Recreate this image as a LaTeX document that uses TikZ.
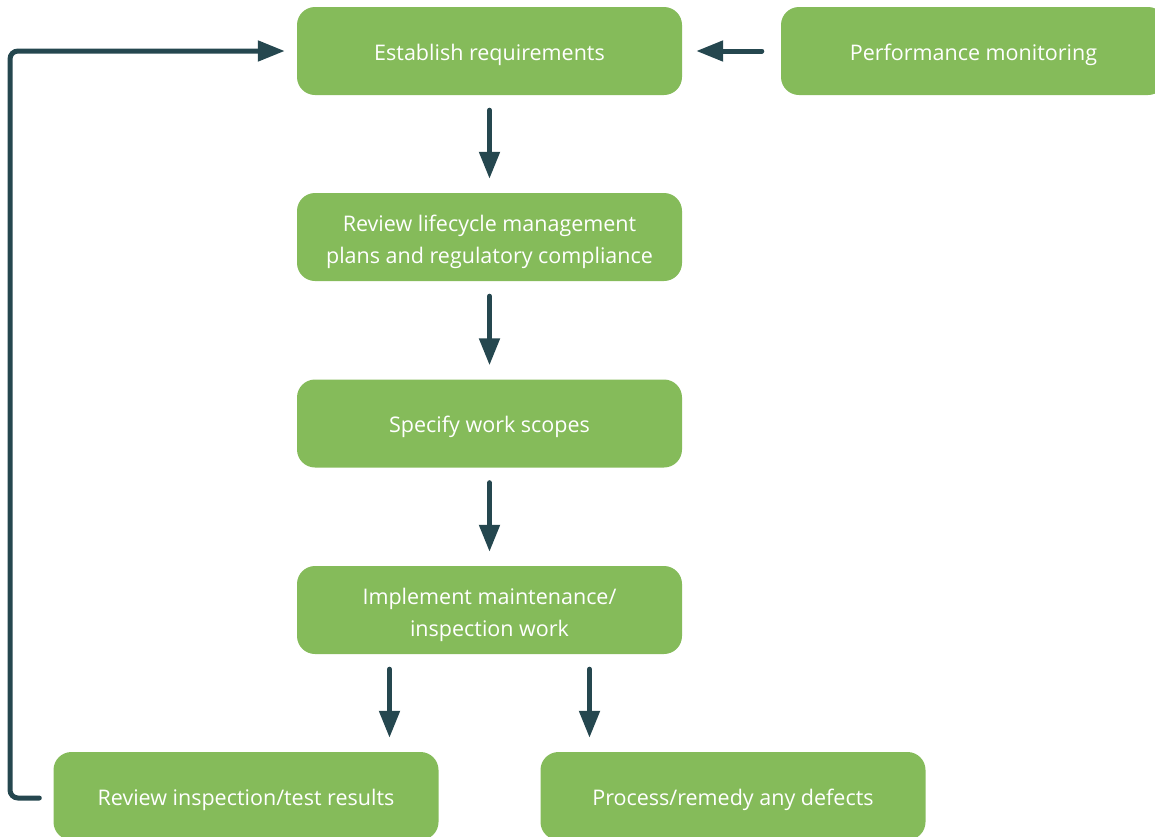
\documentclass[tikz,border=0pt]{standalone}
\usepackage{fontspec}
\setmainfont{Open Sans}
\usetikzlibrary{arrows.meta}

\definecolor{leaf}{HTML}{85BB5A}
\definecolor{slate}{HTML}{25474F}

\tikzset{
    stage/.style={fill=leaf, text=white, rounded corners=18pt, minimum width=385pt,
        minimum height=88pt, inner sep=0pt, align=center, font=\fontsize{21.5}{32}\selectfont,
        execute at begin node={\rule{0pt}{24pt}}},
    twoline/.style={text height=58pt},
    flow/.style={draw=slate, line width=5pt, line cap=round,
        -{Triangle[length=27pt, width=20pt]}, shorten >=14pt, shorten <=15pt}
}

\begin{document}
\begin{tikzpicture}[x=1pt, y=-1pt]
    \useasboundingbox (0,0) rectangle (1155,836);

    % Main column
    \node[stage] (est) at (489.5,51) {Establish requirements};
    \node[stage, twoline] (plan) at (489.5,237) {Review lifecycle management\\plans and regulatory compliance};
    \node[stage] (scope) at (489.5,423.5) {Specify work scopes};
    \node[stage, twoline] (impl) at (489.5,610) {Implement maintenance/\\inspection work};

    % Side and bottom boxes
    \node[stage] (perf) at (973.5,51) {Performance monitoring};
    \node[stage] (rev) at (246,796) {Review inspection/test results};
    \node[stage] (fix) at (733,796) {Process/remedy any defects};

    % Connections
    \draw[flow] (est) -- (plan);
    \draw[flow] (plan) -- (scope);
    \draw[flow] (scope) -- (impl);
    \draw[flow] ([xshift=-100pt]impl.south) -- ([xshift=-100pt]impl.south |- rev.north);
    \draw[flow] ([xshift=100pt]impl.south) -- ([xshift=100pt]impl.south |- fix.north);
    \draw[flow, shorten <=19pt] (perf) -- (est);

    % Feedback loop
    \coordinate (loop) at (10,798);
    \draw[flow, rounded corners=8pt, shorten <=14pt, shorten >=12pt] (rev.west |- loop) -- (loop) |- (est.west);
\end{tikzpicture}
\end{document}
